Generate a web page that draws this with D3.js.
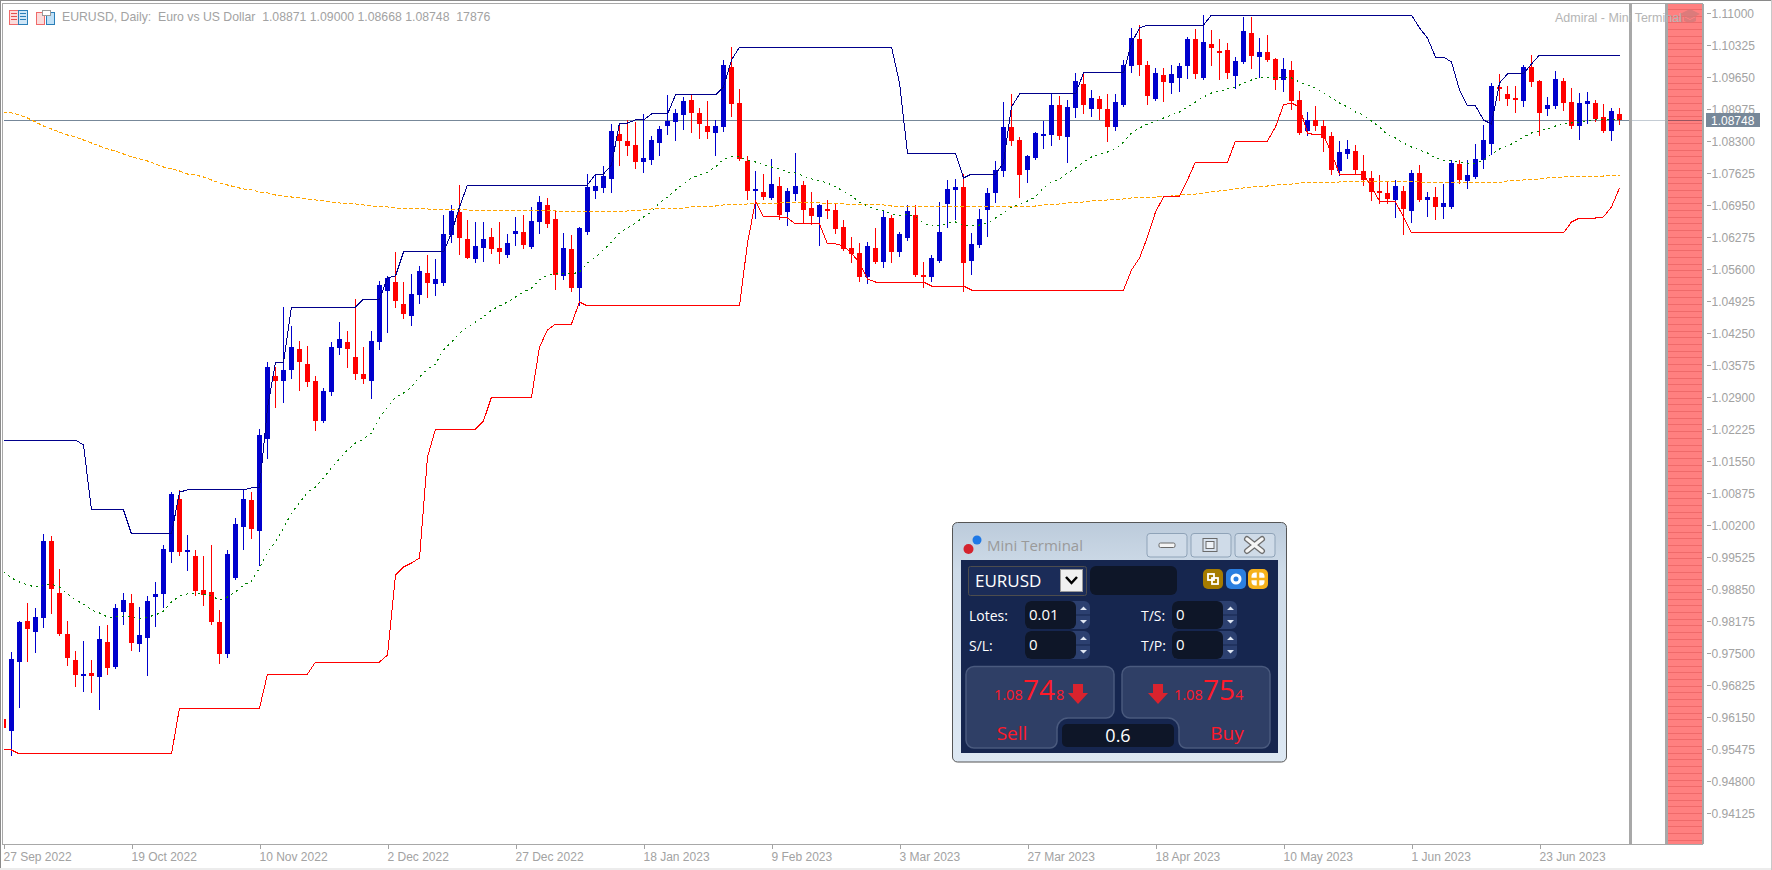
<!DOCTYPE html>
<html>
<head>
<meta charset="utf-8">
<title>EURUSD Daily</title>
<script src="https://cdn.jsdelivr.net/npm/d3@7"></script>
<style>
html,body{margin:0;padding:0;background:#fff;overflow:hidden}
svg{display:block}
text{font-family:"Liberation Sans",Arial,sans-serif}
.axis text{fill:#a2a2a2;font-size:12px}
.axis line{stroke:#a2a2a2;shape-rendering:crispEdges}
.crisp{shape-rendering:crispEdges}
</style>
</head>
<body>
<div id="chart"></div>
<script>
// Daily EURUSD bars, oldest first
const opens = [
0.96114,0.95861,0.97316,0.98181,0.97949,0.98244,0.99869,0.98772,0.97907,0.97358,
0.97021,0.97084,0.97000,0.97738,0.97210,0.98371,0.98561,0.97696,0.97822,0.98687,
0.98751,0.99637,1.00755,0.99637,0.99553,0.98835,0.98793,0.98160,0.97485,0.99089,
1.00164,1.00734,1.00080,1.02020,1.03349,1.03243,1.03475,1.03918,1.03602,1.03243,
1.02400,1.03012,1.03940,1.04066,1.03750,1.03391,1.03243,1.04066,1.05142,1.05332,
1.04868,1.04615,1.05058,1.05522,1.05290,1.05311,1.06324,1.06809,1.06240,1.05817,
1.06050,1.06282,1.06050,1.05902,1.06345,1.06387,1.06071,1.06598,1.06957,1.06661,
1.05459,1.06029,1.05206,1.06387,1.07252,1.07315,1.07505,1.08454,1.08306,1.08222,
1.07863,1.07905,1.08264,1.08623,1.08707,1.08855,1.09171,1.08897,1.08623,1.08475,
1.08602,1.09867,1.09108,1.07884,1.07252,1.07231,1.07104,1.07357,1.06809,1.07188,
1.07378,1.06893,1.06704,1.06872,1.06851,1.06493,1.06050,1.05944,1.05438,1.06050,
1.05754,1.06682,1.05965,1.06261,1.06746,1.05480,1.05438,1.05775,1.06978,1.07273,
1.07336,1.05775,1.06113,1.06851,1.07210,1.07674,1.08602,1.08328,1.07695,1.07948,
1.08412,1.08433,1.09066,1.08391,1.09002,1.09509,1.08982,1.09192,1.08982,1.08602,
1.09066,1.09888,1.10458,1.09909,1.09192,1.09698,1.09530,1.09635,1.09888,1.10458,
1.09635,1.10352,1.10205,1.10226,1.09677,1.09973,1.10584,1.10078,1.10184,1.10036,
1.09593,1.09804,1.09171,1.08517,1.08750,1.08623,1.08412,1.07674,1.08032,1.08095,
1.07674,1.07526,1.07252,1.07210,1.07062,1.07252,1.06830,1.07631,1.07062,1.07125,
1.06915,1.06915,1.07821,1.07463,1.07547,1.07905,1.08243,1.09445,1.09298,1.09213,
1.09150,1.09867,1.09572,1.08982,1.09045,1.09572,1.09129,1.08623,1.09087,1.09108,
1.08813,1.08517,1.08871];
const highs = [
0.96178,0.97527,0.98181,0.98561,0.98455,1.00017,0.99975,0.99279,0.98181,0.97548,
0.97759,0.97358,0.98076,0.98097,0.98540,0.98772,0.98751,0.98476,0.98708,0.99004,
0.99785,1.00902,1.00945,0.99996,0.99679,0.99553,0.99785,0.98413,0.99679,1.00354,
1.00966,1.00902,1.02231,1.03644,1.03539,1.04804,1.04404,1.04087,1.03982,1.03349,
1.03096,1.04066,1.04488,1.04298,1.04973,1.03961,1.04298,1.05353,1.05459,1.05965,
1.05332,1.05501,1.05670,1.05902,1.05817,1.06746,1.06957,1.07378,1.06640,1.06598,
1.06598,1.06471,1.06598,1.06345,1.06704,1.06746,1.06915,1.07146,1.07104,1.06851,
1.06366,1.06324,1.06493,1.07610,1.07589,1.07779,1.08665,1.08623,1.08750,1.08707,
1.08876,1.08412,1.08623,1.09277,1.08982,1.09235,1.09298,1.09002,1.09150,1.08750,
1.10015,1.10289,1.09403,1.07990,1.07674,1.07610,1.07927,1.07547,1.07315,1.08053,
1.07463,1.07231,1.06978,1.07062,1.06999,1.06640,1.06282,1.06155,1.06176,1.06471,
1.06851,1.06746,1.06387,1.06957,1.06957,1.05754,1.05902,1.07020,1.07484,1.07505,
1.07610,1.06366,1.06872,1.07315,1.07884,1.09129,1.09298,1.08391,1.08011,1.08496,
1.08728,1.09298,1.09256,1.09171,1.09741,1.09720,1.09382,1.09256,1.09298,1.09298,
1.10015,1.10690,1.10753,1.09994,1.09846,1.09846,1.09909,1.09952,1.10500,1.10669,
1.10964,1.10648,1.10458,1.10373,1.10078,1.10922,1.10922,1.10479,1.10542,1.10057,
1.10057,1.09994,1.09361,1.08918,1.09045,1.08750,1.08496,1.08306,1.08328,1.08222,
1.08011,1.07674,1.07589,1.07442,1.07484,1.07357,1.07695,1.07800,1.07231,1.07336,
1.07399,1.07905,1.07905,1.07905,1.08243,1.08644,1.09530,1.09720,1.09466,1.09466,
1.09909,1.10120,1.09593,1.09235,1.09783,1.09635,1.09424,1.09319,1.09340,1.09171,
1.09087,1.09002,1.09000];
const lows = [
0.95861,0.95355,0.96367,0.97337,0.97527,0.98054,0.98350,0.97886,0.97253,0.96810,
0.96705,0.96684,0.96325,0.97063,0.97189,0.98118,0.97569,0.97548,0.97042,0.98076,
0.98476,0.99426,0.99574,0.99258,0.98730,0.98519,0.98118,0.97295,0.97422,0.99068,
0.99700,0.99932,0.99363,1.01619,1.02695,1.02801,1.03307,1.03054,1.03138,1.02210,
1.02379,1.02949,1.03813,1.03539,1.03286,1.03201,1.02885,1.03918,1.04277,1.04804,
1.04573,1.04425,1.04889,1.05016,1.05058,1.05269,1.06176,1.05923,1.05830,1.05754,
1.05775,1.05944,1.05733,1.05860,1.06113,1.06050,1.06050,1.06366,1.06493,1.05185,
1.05396,1.05142,1.04847,1.06345,1.07104,1.07231,1.07231,1.07800,1.08011,1.07737,
1.07652,1.07821,1.08011,1.08454,1.08328,1.08560,1.08496,1.08370,1.08370,1.08011,
1.08517,1.08834,1.07905,1.07083,1.06682,1.07083,1.07083,1.06661,1.06534,1.07062,
1.06598,1.06556,1.06113,1.06682,1.06366,1.06008,1.05754,1.05353,1.05311,1.05733,
1.05649,1.05754,1.05881,1.06218,1.05459,1.05227,1.05353,1.05754,1.06493,1.06661,
1.05142,1.05501,1.06071,1.06303,1.07020,1.07568,1.08222,1.07125,1.07442,1.07927,
1.08159,1.08222,1.08349,1.07863,1.08813,1.08897,1.08834,1.08770,1.08306,1.08538,
1.09045,1.09762,1.09698,1.09087,1.09171,1.09150,1.09319,1.09361,1.09635,1.09635,
1.09614,1.09909,1.09614,1.09635,1.09424,1.09952,1.09846,1.09656,1.09994,1.09403,
1.09361,1.08982,1.08454,1.08433,1.08538,1.08095,1.07610,1.07589,1.07948,1.07610,
1.07378,1.07062,1.06999,1.06999,1.06704,1.06345,1.06598,1.07041,1.06725,1.06661,
1.06682,1.06893,1.07421,1.07315,1.07526,1.07737,1.08032,1.09171,1.09066,1.08918,
1.09045,1.09466,1.08433,1.08855,1.09002,1.08960,1.08581,1.08349,1.08686,1.08728,
1.08496,1.08328,1.08668];
const closes = [
0.95924,0.97379,0.98160,0.98012,0.98265,0.99869,0.98857,0.97907,0.97401,0.97042,
0.97063,0.97021,0.97801,0.97189,0.98455,0.98624,0.97717,0.97886,0.98603,0.98751,
0.99700,1.00860,0.99637,0.99679,0.98814,0.98730,0.98160,0.97485,0.99595,1.00228,
1.00755,1.00122,1.02105,1.03539,1.03243,1.03475,1.03961,1.03644,1.03222,1.02400,
1.03033,1.03961,1.04130,1.03918,1.03391,1.03286,1.04087,1.05269,1.05417,1.04931,
1.04657,1.05079,1.05564,1.05311,1.05396,1.06345,1.06830,1.06261,1.05839,1.06092,
1.06240,1.06029,1.05965,1.06155,1.06408,1.06113,1.06619,1.07020,1.06556,1.05480,
1.06050,1.05206,1.06471,1.07336,1.07357,1.07568,1.08517,1.08306,1.08201,1.07863,
1.07948,1.08328,1.08560,1.08728,1.08897,1.09150,1.08897,1.08665,1.08496,1.08623,
1.09909,1.09087,1.07927,1.07252,1.07294,1.07125,1.07399,1.06746,1.07252,1.07357,
1.06851,1.06725,1.06957,1.06830,1.06450,1.06029,1.05923,1.05438,1.06092,1.05754,
1.06704,1.05965,1.06345,1.06830,1.05480,1.05438,1.05839,1.06387,1.07294,1.07336,
1.05733,1.06134,1.06661,1.07210,1.07695,1.08602,1.08306,1.07589,1.07990,1.08475,
1.08454,1.09066,1.08412,1.09023,1.09572,1.09066,1.09213,1.08982,1.08602,1.09129,
1.09909,1.10479,1.09909,1.09256,1.09741,1.09551,1.09720,1.09888,1.10458,1.09720,
1.10395,1.10268,1.10163,1.09741,1.09994,1.10627,1.10099,1.10184,1.10015,1.09593,
1.09825,1.09150,1.08475,1.08750,1.08623,1.08370,1.07695,1.08074,1.08138,1.07695,
1.07484,1.07231,1.07210,1.07083,1.07357,1.06872,1.07631,1.07062,1.07125,1.06915,
1.06999,1.07842,1.07484,1.07589,1.07927,1.08328,1.09466,1.09403,1.09192,1.09171,
1.09867,1.09551,1.08897,1.09066,1.09614,1.09108,1.08623,1.09108,1.09150,1.08770,
1.08517,1.08939,1.08748];

// Channel top and bottom, one value per bar
const upperBand = [
1.01999,1.01999,1.01999,1.01999,1.01999,1.01999,1.01999,1.01999,1.01999,1.01999,
1.01894,1.00523,1.00523,1.00523,1.00523,1.00523,1.00017,1.00017,1.00017,1.00017,
1.00017,1.00017,1.00902,1.00945,1.00945,1.00945,1.00945,1.00945,1.00945,1.00945,
1.00945,1.00987,1.00987,1.02674,1.03644,1.03644,1.04804,1.04804,1.04804,1.04804,
1.04804,1.04804,1.04804,1.04804,1.04804,1.04973,1.04973,1.04973,1.05417,1.05459,
1.05965,1.05965,1.05965,1.05965,1.05965,1.05965,1.06366,1.06915,1.07378,1.07378,
1.07378,1.07378,1.07378,1.07378,1.07378,1.07378,1.07378,1.07378,1.07378,1.07378,
1.07378,1.07378,1.07378,1.07378,1.07610,1.07610,1.07800,1.08686,1.08686,1.08750,
1.08750,1.08876,1.08876,1.08876,1.09277,1.09277,1.09277,1.09277,1.09277,1.09277,
1.09445,1.10015,1.10289,1.10289,1.10289,1.10289,1.10289,1.10289,1.10289,1.10289,
1.10289,1.10289,1.10289,1.10289,1.10289,1.10289,1.10289,1.10289,1.10289,1.10289,
1.10289,1.10289,1.09530,1.08053,1.08053,1.08053,1.08053,1.08053,1.08053,1.08053,
1.07526,1.07610,1.07610,1.07610,1.07610,1.07842,1.09023,1.09298,1.09298,1.09298,
1.09298,1.09298,1.09298,1.09298,1.09298,1.09741,1.09741,1.09741,1.09741,1.09741,
1.09741,1.10373,1.10690,1.10753,1.10753,1.10753,1.10753,1.10753,1.10753,1.10753,
1.10753,1.10964,1.10964,1.10964,1.10964,1.10964,1.10964,1.10964,1.10964,1.10964,
1.10964,1.10964,1.10964,1.10964,1.10964,1.10964,1.10964,1.10964,1.10964,1.10964,
1.10964,1.10964,1.10964,1.10964,1.10964,1.10964,1.10964,1.10690,1.10479,1.10078,
1.10078,1.09973,1.09382,1.09045,1.09045,1.08750,1.08665,1.09530,1.09720,1.09720,
1.09720,1.09931,1.10120,1.10120,1.10120,1.10120,1.10120,1.10120,1.10120,1.10120,
1.10120,1.10120,1.10120];
const lowerBand = [
0.95481,0.95460,0.95376,0.95376,0.95376,0.95376,0.95376,0.95376,0.95376,0.95376,
0.95376,0.95376,0.95376,0.95376,0.95376,0.95376,0.95376,0.95376,0.95376,0.95376,
0.95376,0.95376,0.96346,0.96346,0.96346,0.96346,0.96346,0.96346,0.96346,0.96346,
0.96346,0.96346,0.96346,0.97063,0.97063,0.97063,0.97063,0.97063,0.97063,0.97316,
0.97316,0.97316,0.97316,0.97316,0.97316,0.97316,0.97316,0.97316,0.97464,0.99151,
0.99320,0.99405,0.99510,1.01640,1.02231,1.02231,1.02231,1.02231,1.02231,1.02231,
1.02400,1.02906,1.02906,1.02906,1.02906,1.02906,1.02906,1.03961,1.04319,1.04446,
1.04446,1.04446,1.04910,1.04826,1.04826,1.04826,1.04826,1.04826,1.04826,1.04826,
1.04826,1.04826,1.04826,1.04826,1.04826,1.04826,1.04826,1.04826,1.04826,1.04826,
1.04826,1.04826,1.04826,1.06155,1.07041,1.06704,1.06704,1.06704,1.06682,1.06556,
1.06556,1.06556,1.06556,1.06134,1.06134,1.06092,1.05944,1.05733,1.05396,1.05332,
1.05332,1.05332,1.05332,1.05332,1.05332,1.05332,1.05247,1.05247,1.05247,1.05247,
1.05247,1.05163,1.05163,1.05163,1.05163,1.05163,1.05163,1.05163,1.05163,1.05163,
1.05163,1.05163,1.05163,1.05163,1.05163,1.05163,1.05163,1.05163,1.05163,1.05163,
1.05163,1.05585,1.05839,1.06282,1.06809,1.07125,1.07146,1.07146,1.07484,1.07863,
1.07863,1.07863,1.07863,1.07863,1.08306,1.08306,1.08306,1.08306,1.08306,1.08602,
1.09066,1.09108,1.09023,1.08475,1.08433,1.08433,1.08053,1.07610,1.07610,1.07610,
1.07610,1.07336,1.07041,1.07020,1.07020,1.06704,1.06366,1.06366,1.06366,1.06366,
1.06366,1.06366,1.06366,1.06366,1.06366,1.06366,1.06366,1.06366,1.06366,1.06366,
1.06366,1.06366,1.06366,1.06366,1.06366,1.06366,1.06598,1.06682,1.06682,1.06682,
1.06704,1.06915,1.07315];

// Moving averages, one value per bar
const fastAverage = [
0.99215,0.99089,0.99004,0.98941,0.98898,0.98941,0.98962,0.98898,0.98751,0.98624,
0.98540,0.98413,0.98350,0.98265,0.98265,0.98287,0.98265,0.98223,0.98265,0.98308,
0.98392,0.98582,0.98708,0.98751,0.98772,0.98751,0.98708,0.98624,0.98687,0.98793,
0.98941,0.99025,0.99300,0.99637,0.99848,1.00143,1.00460,1.00671,1.00902,1.01008,
1.01198,1.01409,1.01599,1.01788,1.01936,1.02020,1.02147,1.02463,1.02695,1.02906,
1.02990,1.03117,1.03328,1.03497,1.03602,1.03898,1.04066,1.04256,1.04382,1.04488,
1.04594,1.04741,1.04826,1.04910,1.05016,1.05121,1.05206,1.05374,1.05480,1.05501,
1.05501,1.05501,1.05543,1.05733,1.05860,1.06008,1.06176,1.06366,1.06471,1.06577,
1.06704,1.06809,1.06999,1.07125,1.07273,1.07399,1.07526,1.07589,1.07652,1.07758,
1.07927,1.07969,1.07969,1.07905,1.07863,1.07800,1.07758,1.07716,1.07652,1.07631,
1.07568,1.07505,1.07463,1.07421,1.07336,1.07252,1.07146,1.07020,1.06935,1.06872,
1.06830,1.06767,1.06725,1.06767,1.06704,1.06577,1.06514,1.06514,1.06577,1.06598,
1.06534,1.06534,1.06534,1.06577,1.06682,1.06788,1.06915,1.06978,1.07041,1.07125,
1.07315,1.07442,1.07505,1.07631,1.07737,1.07863,1.07969,1.08032,1.08074,1.08138,
1.08285,1.08475,1.08581,1.08665,1.08728,1.08791,1.08855,1.08918,1.09023,1.09129,
1.09235,1.09319,1.09361,1.09403,1.09445,1.09530,1.09593,1.09635,1.09656,1.09656,
1.09656,1.09635,1.09551,1.09488,1.09424,1.09319,1.09213,1.09108,1.09023,1.08918,
1.08855,1.08728,1.08602,1.08433,1.08370,1.08264,1.08180,1.08116,1.08053,1.07948,
1.07905,1.07884,1.07863,1.07842,1.07842,1.07905,1.08032,1.08138,1.08201,1.08285,
1.08391,1.08475,1.08517,1.08560,1.08623,1.08686,1.08686,1.08707,1.08728,1.08750,
1.08750,1.08750,1.08750];
const slowAverage = [
1.08918,1.08897,1.08855,1.08791,1.08707,1.08623,1.08560,1.08496,1.08433,1.08391,
1.08328,1.08264,1.08201,1.08138,1.08095,1.08032,1.07969,1.07927,1.07884,1.07821,
1.07758,1.07716,1.07674,1.07610,1.07589,1.07547,1.07484,1.07421,1.07378,1.07336,
1.07294,1.07273,1.07231,1.07210,1.07167,1.07146,1.07125,1.07104,1.07083,1.07062,
1.07041,1.07020,1.06999,1.06978,1.06978,1.06957,1.06935,1.06915,1.06915,1.06893,
1.06893,1.06872,1.06872,1.06872,1.06851,1.06851,1.06851,1.06851,1.06851,1.06830,
1.06830,1.06830,1.06830,1.06830,1.06830,1.06830,1.06830,1.06830,1.06830,1.06830,
1.06809,1.06809,1.06809,1.06809,1.06809,1.06809,1.06809,1.06809,1.06830,1.06830,
1.06851,1.06872,1.06872,1.06893,1.06893,1.06893,1.06915,1.06935,1.06935,1.06935,
1.06957,1.06957,1.06957,1.06978,1.06978,1.06978,1.06978,1.06999,1.06999,1.06999,
1.06999,1.06999,1.06999,1.06978,1.06978,1.06978,1.06957,1.06957,1.06957,1.06957,
1.06957,1.06935,1.06935,1.06935,1.06935,1.06915,1.06915,1.06915,1.06915,1.06915,
1.06915,1.06915,1.06915,1.06915,1.06915,1.06915,1.06915,1.06935,1.06935,1.06935,
1.06957,1.06957,1.06978,1.06999,1.06999,1.07020,1.07041,1.07041,1.07062,1.07062,
1.07083,1.07104,1.07104,1.07125,1.07125,1.07146,1.07146,1.07167,1.07188,1.07188,
1.07210,1.07231,1.07252,1.07273,1.07294,1.07315,1.07336,1.07357,1.07357,1.07378,
1.07399,1.07399,1.07421,1.07421,1.07421,1.07421,1.07421,1.07442,1.07442,1.07442,
1.07442,1.07442,1.07442,1.07442,1.07442,1.07442,1.07442,1.07442,1.07421,1.07421,
1.07421,1.07421,1.07421,1.07421,1.07421,1.07421,1.07421,1.07421,1.07463,1.07463,
1.07484,1.07484,1.07505,1.07526,1.07526,1.07547,1.07547,1.07547,1.07568,1.07568,
1.07568,1.07589,1.07589];

// Axis labels
const dateTickBars = [0,16,32,48,64,80,96,112,128,144,160,176,192];
const dateTickLabels = ["27 Sep 2022","19 Oct 2022","10 Nov 2022","2 Dec 2022","27 Dec 2022","18 Jan 2023","9 Feb 2023","3 Mar 2023","27 Mar 2023","18 Apr 2023","10 May 2023","1 Jun 2023","23 Jun 2023"];
const priceTicks = [1.11000,1.10325,1.09650,1.08975,1.08300,1.07625,1.06950,1.06275,1.05600,1.04925,1.04250,1.03575,1.02900,1.02225,1.01550,1.00875,1.00200,0.99525,0.98850,0.98175,0.97500,0.96825,0.96150,0.95475,0.94800,0.94125];

const titleLine = "EURUSD, Daily:  Euro vs US Dollar  1.08871 1.09000 1.08668 1.08748  17876";
const lastPrice = 1.08748;

const W = 1772, H = 870;
const svg = d3.select("#chart").append("svg").attr("width", W).attr("height", H);

const x = d3.scaleLinear().domain([0, 202]).range([3.5, 1619.5]);
const y = d3.scaleLinear().domain([0.94125, 1.11]).range([813.3, 13.3]);
const bars = d3.range(opens.length);

// Window chrome around the plot
const chrome = svg.append("g").attr("class", "crisp");
chrome.append("rect").attr("x",0).attr("y",0).attr("width",W).attr("height",1).attr("fill","#8a8a8a");
chrome.append("rect").attr("x",3).attr("y",3).attr("width",1700).attr("height",1).attr("fill","#a8a8a8");
chrome.append("rect").attr("x",0).attr("y",0).attr("width",1).attr("height",H).attr("fill","#8a8a8a");
chrome.append("rect").attr("x",2).attr("y",3).attr("width",1).attr("height",842).attr("fill","#a8a8a8");
chrome.append("rect").attr("x",2).attr("y",844).attr("width",1701).attr("height",1).attr("fill","#a8a8a8");
chrome.append("rect").attr("x",0).attr("y",868).attr("width",W).attr("height",2).attr("fill","#ececec");
chrome.append("rect").attr("x",W-1).attr("y",0).attr("width",1).attr("height",H).attr("fill","#c8c8c8");

// Shifted area past the last bar, with its marker strip
chrome.append("rect").attr("x",1629).attr("y",4).attr("width",3).attr("height",840).attr("fill","#a8a8a8");
chrome.append("rect").attr("x",1665).attr("y",4).attr("width",3).attr("height",840).attr("fill","#a8a8a8");
chrome.append("rect").attr("x",1702).attr("y",4).attr("width",2).attr("height",840).attr("fill","#a8a8a8");
chrome.append("rect").attr("x",1668).attr("y",4).attr("width",34).attr("height",840).attr("fill","#ff8080");
chrome.selectAll("rect.stripe").data(d3.range(9, 844, 6.7)).join("rect").attr("class","stripe")
  .attr("x",1668).attr("width",34).attr("y",d=>Math.round(d)).attr("height",1).attr("fill","#ef6a6a");

// Last price line
const priceY = Math.round(y(lastPrice));
chrome.append("rect").attr("x",4).attr("y",priceY).attr("width",1625).attr("height",1).attr("fill","#778899");
chrome.append("rect").attr("x",1632).attr("y",priceY).attr("width",33).attr("height",1).attr("fill","#c4ccd4");
chrome.append("rect").attr("x",1668).attr("y",priceY).attr("width",34).attr("height",1).attr("fill","#9a5560");

svg.append("defs").append("clipPath").attr("id","plot")
  .append("rect").attr("x",4).attr("y",4).attr("width",1625).attr("height",840);
const plot = svg.append("g").attr("clip-path","url(#plot)");

// Candles: wick first, then the body
const isUp = i => closes[i] >= opens[i];
const candleColor = i => isUp(i) ? "#0000cd" : "#ff0000";
const candles = plot.append("g").attr("class","crisp");
candles.selectAll("line").data(bars).join("line")
  .attr("x1", i => x(i)).attr("x2", i => x(i))
  .attr("y1", i => Math.round(y(highs[i]))).attr("y2", i => Math.round(y(lows[i]))+1)
  .attr("stroke", candleColor).attr("stroke-width", 1);
candles.selectAll("rect").data(bars).join("rect")
  .attr("x", i => x(i) - 2.5).attr("width", 5)
  .attr("y", i => Math.round(y(Math.max(opens[i], closes[i]))))
  .attr("height", i => Math.max(2, Math.round(y(Math.min(opens[i], closes[i]))) - Math.round(y(Math.max(opens[i], closes[i])))))
  .attr("fill", candleColor);

// Indicator lines over the candles
const line = d3.line().x((d,i)=>x(i)).y(d=>y(d));
const drawLine = (values, color, dash) => plot.append("path").datum(values)
  .attr("d", line).attr("fill","none").attr("stroke",color).attr("stroke-width",1)
  .attr("stroke-dasharray",dash).attr("class","crisp");
drawLine(slowAverage, "#ffa500", "4 2");
drawLine(fastAverage, "#008000", "2 4");
drawLine(upperBand, "#00008b", null);
drawLine(lowerBand, "#ff0000", null);

// Axes
const xAxis = d3.axisBottom(x).tickValues(dateTickBars).tickSize(4).tickPadding(3)
  .tickFormat(d => dateTickLabels[dateTickBars.indexOf(d)]);
svg.append("g").attr("class","axis").attr("transform","translate(0,845)").call(xAxis)
  .call(g=>g.select(".domain").remove())
  .call(g=>g.selectAll("text").attr("text-anchor","start").attr("dx","-0.5"));

const yAxis = d3.axisRight(y).tickValues(priceTicks).tickSize(4).tickPadding(0.5)
  .tickFormat(d3.format(".5f"));
svg.append("g").attr("class","axis").attr("transform","translate(1707,0)").call(yAxis)
  .call(g=>g.select(".domain").remove());

// Last price tag
svg.append("rect").attr("class","crisp").attr("x",1706).attr("y",113).attr("width",54).attr("height",14).attr("fill","#778899");
svg.append("text").attr("x",1711).attr("y",priceY+4.5).attr("fill","#fff").attr("font-size",12).text(d3.format(".5f")(lastPrice));

// Header: list and chart toggles, instrument line, program name
const header = svg.append("g");
const miniIcon = (gx, parts) => parts.forEach(p =>
  header.append("rect").attr("class","crisp").attr("x",gx+p[0]).attr("y",p[1]).attr("width",p[2]).attr("height",p[3])
    .attr("fill",p[4]).attr("stroke",p[5]||"none"));
miniIcon(9, [[0.5,10.5,9,14,"#fbdcdc","#ef6a6a"],[9.5,10.5,9,14,"#cfe6f7","#2b7fb8"],
  [2,13,6,1,"#e45050"],[2,16,6,1,"#e45050"],[2,19,6,1,"#e45050"],[11,13,6,1,"#2b7fb8"],[11,16,6,1,"#2b7fb8"],[11,19,6,1,"#2b7fb8"]]);
miniIcon(36, [[0.5,12.5,8,12,"#fbdcdc","#ef6a6a"],[10.5,12.5,8,12,"#bfe0f7","#2b7fb8"],[6,10.5,8,5,"#ffffff","#999999"]]);
header.append("text").attr("x",62).attr("y",21).attr("fill","#a2a2a2").attr("font-size",12.25)
  .style("white-space","pre").text(titleLine);
header.append("text").attr("x",1555).attr("y",22).attr("fill","#b4b4b4").attr("font-size",12.5).text("Admiral - Mini Terminal");
const cap = header.append("g").attr("fill","#d47a7a").attr("opacity",0.8);
cap.append("path").attr("d","M1680 14 L1690 9 L1700 14 L1690 19 Z");
cap.append("path").attr("d","M1684 17 v4 q6 3 12 0 v-4 l-6 3 Z");
cap.append("rect").attr("x",1681).attr("y",15).attr("width",1.5).attr("height",8);

// Trading panel
const panel = svg.append("g");
const box = (px,py,w,h,fill,r,stroke) => panel.append("rect").attr("x",px).attr("y",py).attr("width",w).attr("height",h)
  .attr("rx",r||0).attr("fill",fill).attr("stroke",stroke||"none");
const label = (px,py,t,size,fill,anchor,family) => panel.append("text").attr("x",px).attr("y",py).attr("font-size",size)
  .attr("fill",fill).attr("text-anchor",anchor||"start").style("font-family",family||"'Open Sans'").text(t);

const grad = svg.select("defs").append("linearGradient").attr("id","titleBar").attr("x1",0).attr("y1",0).attr("x2",0).attr("y2",1);
grad.append("stop").attr("offset",0).attr("stop-color","#bccbdb");
grad.append("stop").attr("offset",0.2).attr("stop-color","#cedbe8");
grad.append("stop").attr("offset",1).attr("stop-color","#dde8f3");
box(952.5,522.5,334,239.5,"url(#titleBar)",5,"#555");
box(961,560,317,193,"#16264f");
panel.append("circle").attr("cx",968.5).attr("cy",549).attr("r",5).attr("fill","#d4232e");
panel.append("circle").attr("cx",977).attr("cy",540).attr("r",4.5).attr("fill","#1e78e6");
label(987,551,"Mini Terminal",15,"#9a9a9a");
[1147,1191,1235].forEach(bx => box(bx,533.5,40,23.5,"#cfdbe8",3,"#8fa3b8"));
box(1159,543,16,4.5,"#f4f4f4",1.5,"#6a6a6a");
box(1203,538.5,14,13,"#d8e2ee",0,"#6a6a6a");
box(1206,541.5,8,7,"#eef2f7",0,"#6a6a6a");
panel.append("path").attr("d","M1247 539 L1262 551 M1262 539 L1247 551").attr("stroke","#6e6e6e").attr("stroke-width",6).attr("stroke-linecap","round");
panel.append("path").attr("d","M1247 539 L1262 551 M1262 539 L1247 551").attr("stroke","#f6f6f6").attr("stroke-width",3.5).attr("stroke-linecap","round");

box(968.5,566.5,118,29,"#1b2c58",2,"#4d4d4d");
label(975,587,"EURUSD",17,"#ffffff");
box(1060.5,569.5,22,22,"#f0f0f0",0,"#9a9a9a");
panel.append("path").attr("d","M1066 577 L1071.5 583 L1077 577").attr("fill","none").attr("stroke","#000").attr("stroke-width",2.5);
box(1090,566,87,29,"#0e1628",6);
box(1203,569,20,20,"#a67c00",5);
box(1226,569,20,20,"#2b7fe0",5);
box(1248,569,20,20,"#f5b11a",5);
panel.append("rect").attr("x",1208).attr("y",574).attr("width",6).attr("height",6).attr("fill","none").attr("stroke","#fff").attr("stroke-width",1.8);
panel.append("rect").attr("x",1212).attr("y",578).attr("width",6).attr("height",6).attr("fill","none").attr("stroke","#fff").attr("stroke-width",1.8);
panel.append("circle").attr("cx",1236).attr("cy",579).attr("r",4).attr("fill","none").attr("stroke","#fff").attr("stroke-width",3);
panel.append("rect").attr("x",1251.5).attr("y",572.5).attr("width",13).attr("height",13).attr("rx",4).attr("fill","#fff");
panel.append("path").attr("d","M1258 572 V586 M1251 579 H1265").attr("stroke","#f5b11a").attr("stroke-width",2.5);

const field = (fx,fy,t) => {
  box(fx,fy,65,28,"#2c4070",6);
  box(fx,fy,51,28,"#0e1628",6);
  label(fx+4,fy+19,t,15,"#ffffff");
  panel.append("path").attr("d",`M${fx+55} ${fy+9} h7 l-3.5 -3.5 Z M${fx+55} ${fy+19} h7 l-3.5 3.5 Z`).attr("fill","#dfe6f2");
  panel.append("rect").attr("x",fx+51).attr("y",fy+13.5).attr("width",14).attr("height",1).attr("fill","#16264f");
};
label(969,621,"Lotes:",14,"#ffffff");
label(1141,621,"T/S:",14,"#ffffff");
label(969,651,"S/L:",14,"#ffffff");
label(1141,651,"T/P:",14,"#ffffff");
field(1025,601,"0.01");
field(1172,601,"0");
field(1025,631,"0");
field(1172,631,"0");

const sellShape = "M974 666.5 H1106 a8 8 0 0 1 8 8 V710 a8 8 0 0 1 -8 8 H1068 a11 11 0 0 0 -11 11 V741 a7 7 0 0 1 -7 7 H974 a8 8 0 0 1 -8 -8 V674.5 a8 8 0 0 1 8 -8 Z";
const buyShape = "M1130 666.5 H1262 a8 8 0 0 1 8 8 V740 a8 8 0 0 1 -8 8 H1186 a7 7 0 0 1 -7 -7 V729 a11 11 0 0 0 -11 -11 H1130 a8 8 0 0 1 -8 -8 V674.5 a8 8 0 0 1 8 -8 Z";
[sellShape, buyShape].forEach(d => panel.append("path").attr("d",d).attr("fill","#2f3f66").attr("stroke","#4a5a7e").attr("stroke-width",1.5));
box(1062,724,112,23,"#0e1628",5);
label(1118,742,"0.6",18,"#ffffff","middle");
const red = "#ff1a2a";
label(994,700,"1.08",14.5,red);
label(1023,700,"74",28,red);
label(1056,700,"8",14.5,red);
label(1174,700,"1.08",14.5,red);
label(1203,700,"75",28,red);
label(1235,700,"4",14.5,red);
const downArrow = cx => `M${cx-5} 684 h10 v9 h5 l-10 11 l-10 -11 h5 Z`;
panel.append("path").attr("d",downArrow(1078)).attr("fill","#d9232e");
panel.append("path").attr("d",downArrow(1158)).attr("fill","#d9232e");
label(1012,740,"Sell",19,red,"middle");
label(1227,740,"Buy",19,red,"middle");
</script>
</body>
</html>
